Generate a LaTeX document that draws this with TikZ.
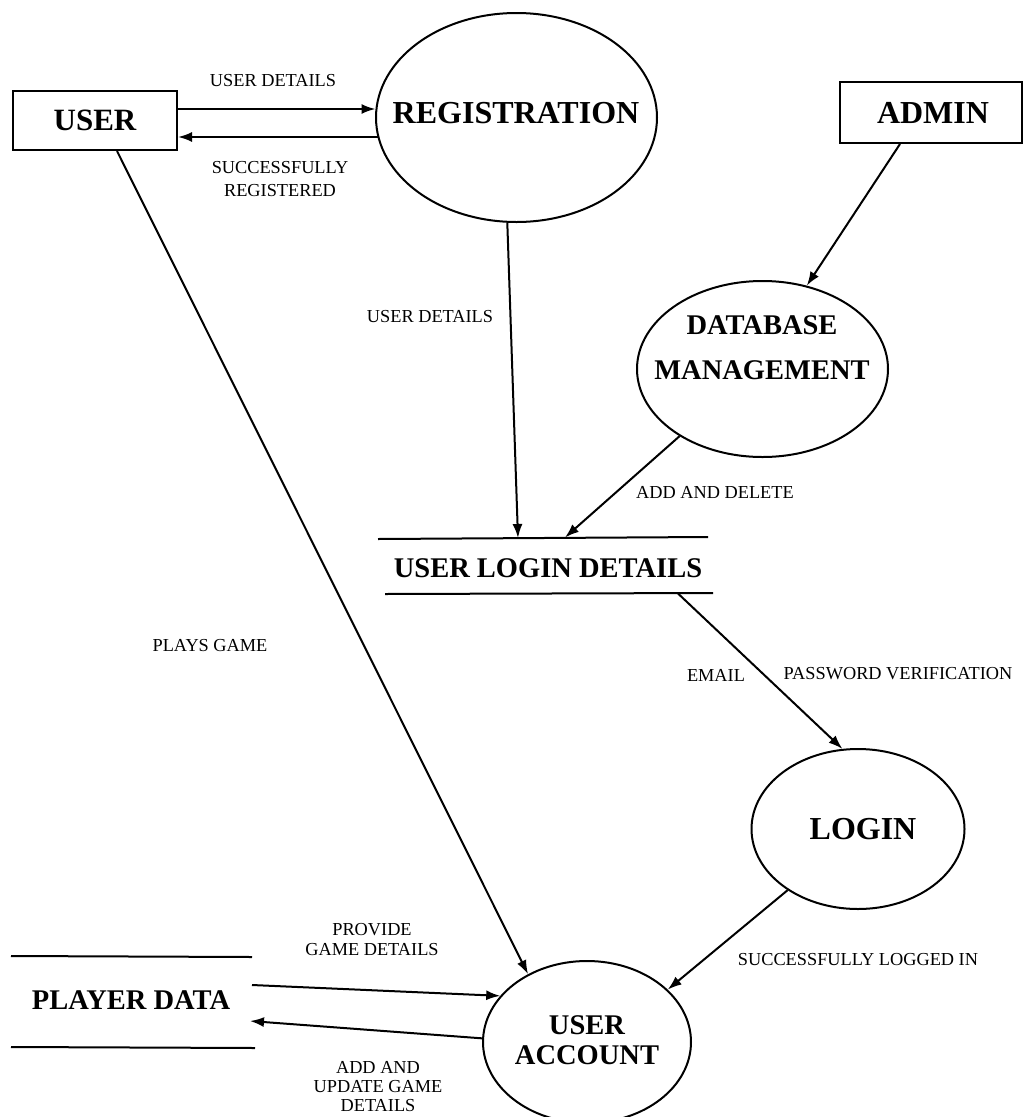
\documentclass[tikz,border=0pt]{standalone}
\usepackage{fontspec}
\setmainfont{Liberation Serif}
\usetikzlibrary{arrows.meta,shapes.geometric,calc}
\begin{document}
\begin{tikzpicture}[x=1pt,y=-1pt,
  line width=2pt,
  arr/.style={-{Latex[length=14pt,width=10pt]}},
  ent/.style={draw,rectangle,inner sep=0pt},
  proc/.style={draw,ellipse,inner sep=0pt},
  big/.style={font=\fontsize{32}{38}\selectfont\bfseries, inner sep=0pt, align=center},
  mid/.style={font=\fontsize{28.5}{30}\selectfont\bfseries, inner sep=0pt, align=center},
  lbl/.style={font=\fontsize{18.3}{21}\selectfont, inner sep=0pt, align=center}]
\useasboundingbox (0,0) rectangle (1025,1117);

% entities
\node[ent, minimum width=164pt, minimum height=59pt] (user) at (95,120.5) {};
\node[big, font=\fontsize{31}{36}\selectfont\bfseries] (usert) at (95,120.5) {USER};
\node[ent, minimum width=182pt, minimum height=61pt] (admin) at (931,112.5) {};
\node[big] (admint) at (933,112.5) {ADMIN};

% processes
\node[proc, minimum width=281pt, minimum height=209pt] (reg) at (516.5,117.5) {};
\node[big] (regt) at (516,113) {REGISTRATION};
\node[proc, minimum width=251pt, minimum height=176pt] (db) at (762.5,369) {};
\node[mid, font=\fontsize{28.5}{45}\selectfont\bfseries] (dbt) at (762,348) {DATABASE\\MANAGEMENT};
\node[proc, minimum width=213pt, minimum height=160pt] (login) at (858,829) {};
\node[big] (logint) at (863,829) {LOGIN};
\node[proc, minimum width=208pt, minimum height=162pt] (ua) at (587,1042) {};
\node[mid] (uat) at (587,1040) {USER\\ACCOUNT};

% data stores
\node[mid] (uld) at (548,568) {USER LOGIN DETAILS};
\draw (378,539) -- (708,537);
\draw (385,594) -- (713,593);
\coordinate (uldinA) at (518,538);
\coordinate (uldinB) at (565,537.5);
\coordinate (uldout) at (678,593.5);

\node[mid] (pd) at (131,1000) {PLAYER DATA};
\draw (11,956) -- (252,957);
\draw (11,1047) -- (255,1048);
\coordinate (pdin) at (252,985);
\coordinate (pdout) at (250,1021);

% connectors
\draw[arr] ($(user.east)+(0,-11.5)$) -- ($(reg.west)+(0.5,-8.5)$);
\draw[arr] ($(reg.west)+(2.5,19.5)$) -- ($(user.east)+(0,16.5)$);
\draw[arr] ($(user.south)+(22,0)$) -- (ua.131);
\draw[arr] (reg.265) -- (uldinA);
\draw[arr] ($(admin.south)+(-31,0)$) -- (db.62);
\draw[arr] (db.219) -- (uldinB);
\draw[arr] (uldout) -- (login.101);
\draw[arr] (login.221) -- (ua.33);
\draw[arr] (pdin) -- (ua.152.5);
\draw[arr] (ua.178) -- (pdout);

% labels
\node[lbl] (l1) at (273,81) {USER DETAILS};
\node[lbl, font=\fontsize{18.3}{23}\selectfont] (l2) at (280,179.5) {SUCCESSFULLY\\REGISTERED};
\node[lbl] (l3) at (430,317) {USER DETAILS};
\node[lbl] (l4) at (715,492) {ADD AND DELETE};
\node[lbl] (l5) at (210,646) {PLAYS GAME};
\node[lbl] (l6) at (716,675) {EMAIL};
\node[lbl] (l7) at (898,674) {PASSWORD VERIFICATION};
\node[lbl] (l8) at (858,960) {SUCCESSFULLY LOGGED IN};
\node[lbl, font=\fontsize{18.3}{20}\selectfont] (l9) at (372,939.5) {PROVIDE\\GAME DETAILS};
\node[lbl, font=\fontsize{18.3}{19}\selectfont] (l10) at (378,1087) {ADD AND\\UPDATE GAME\\DETAILS};
\end{tikzpicture}
\end{document}
